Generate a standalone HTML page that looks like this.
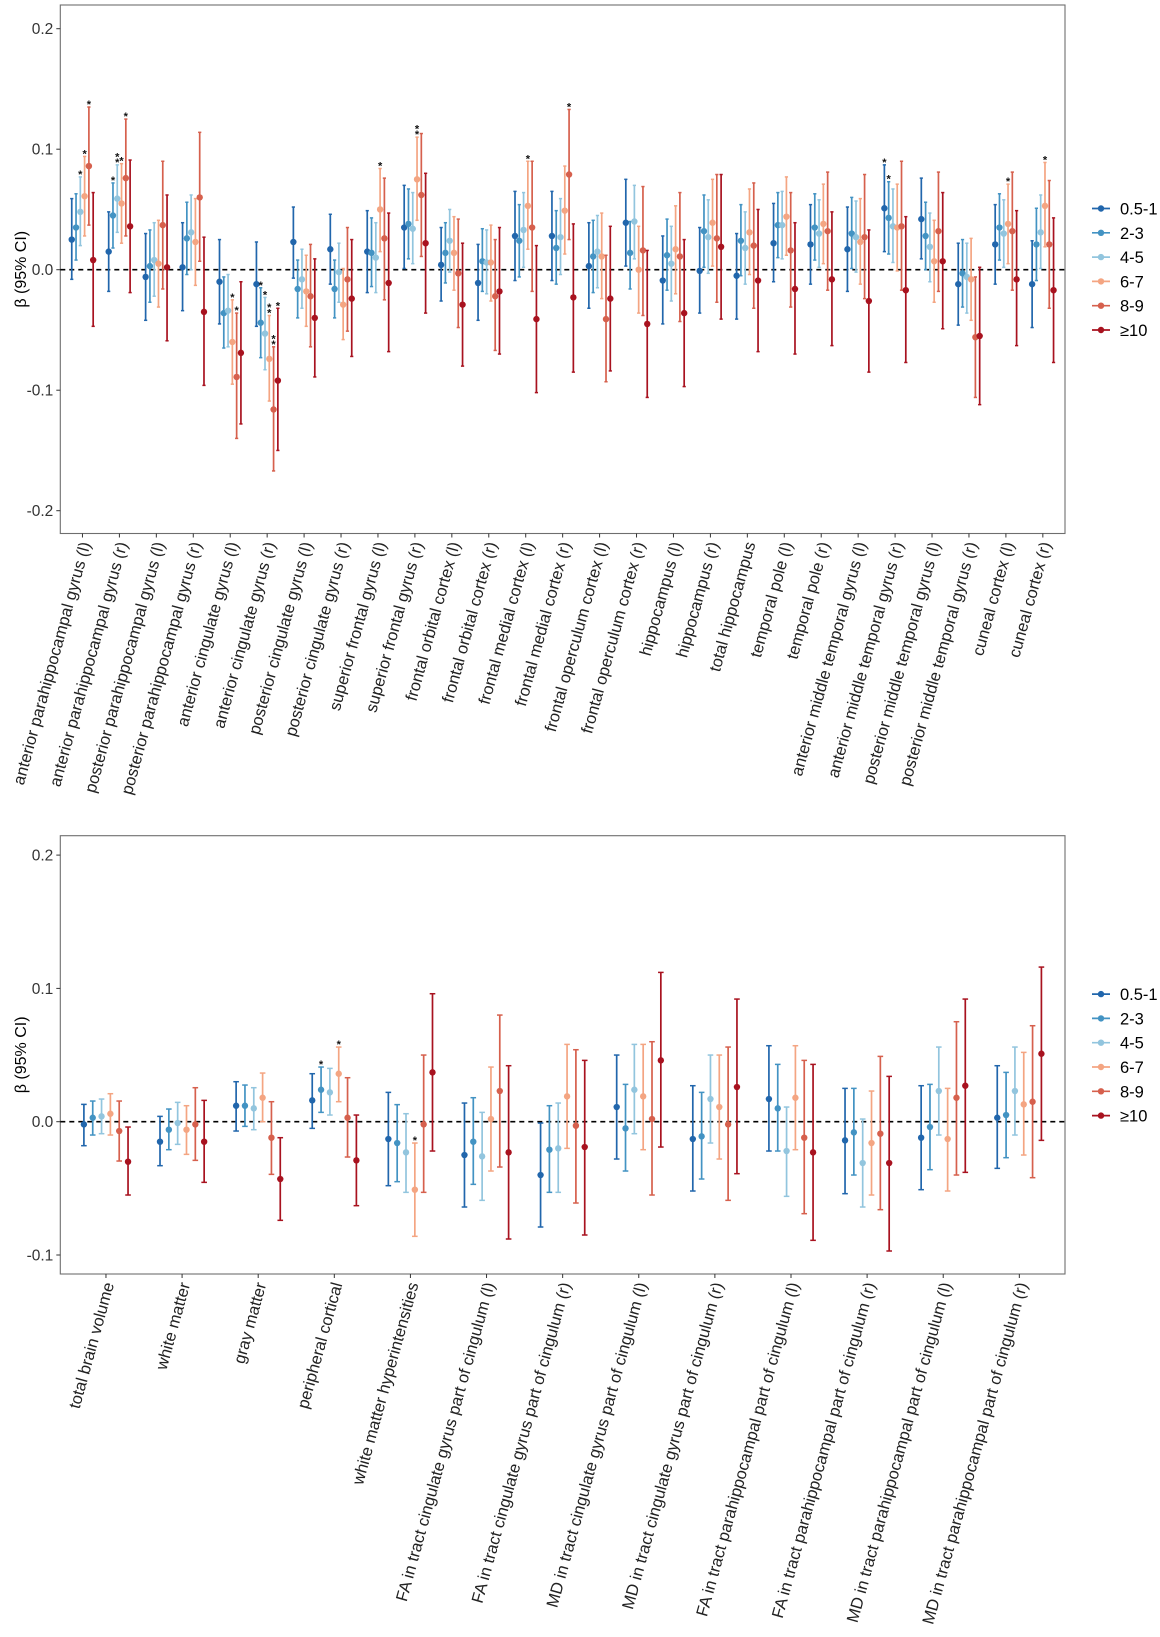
<!DOCTYPE html>
<html><head><meta charset="utf-8"><style>
html,body{margin:0;padding:0;background:#fff;}
svg{display:block;font-family:"Liberation Sans",Arial,sans-serif;}
</style></head><body>
<svg id="chart" width="1160" height="1637" viewBox="0 0 1160 1637" xmlns="http://www.w3.org/2000/svg"></svg>
<script>
const seriesNames = ["0.5-1","2-3","4-5","6-7","8-9","\u226510"];
const seriesColors = ["#2166ac","#4393c3","#92c5de","#f4a582","#d6604d","#a8121f"];

const topCategories = ["anterior parahippocampal gyrus (l)","anterior parahippocampal gyrus (r)","posterior parahippocampal gyrus (l)","posterior parahippocampal gyrus (r)","anterior cingulate gyrus (l)","anterior cingulate gyrus (r)","posterior cingulate gyrus (l)","posterior cingulate gyrus (r)","superior frontal gyrus (l)","superior frontal gyrus (r)","frontal orbital cortex (l)","frontal orbital cortex (r)","frontal medial cortex (l)","frontal medial cortex (r)","frontal operculum cortex (l)","frontal operculum cortex (r)","hippocampus (l)","hippocampus (r)","total hippocampus","temporal pole (l)","temporal pole (r)","anterior middle temporal gyrus (l)","anterior middle temporal gyrus (r)","posterior middle temporal gyrus (l)","posterior middle temporal gyrus (r)","cuneal cortex (l)","cuneal cortex (r)"];
const topEst = [
[.025,.035,.048,.061,.086,.008],[.015,.045,.059,.055,.076,.036],[-.006,.003,.008,.005,.037,.002],[.002,.026,.031,.023,.060,-.035],
[-.010,-.036,-.034,-.060,-.089,-.069],[-.012,-.044,-.053,-.074,-.116,-.092],[.023,-.016,-.008,-.018,-.022,-.040],[.017,-.016,-.002,-.029,-.008,-.024],
[.015,.014,.010,.050,.026,-.011],[.035,.038,.034,.075,.062,.022],[.004,.014,.024,.014,-.003,-.029],[-.011,.007,.006,.006,-.022,-.018],
[.028,.024,.033,.053,.035,-.041],[.028,.018,.027,.049,.079,-.023],[.003,.011,.015,.011,-.041,-.024],[.039,.014,.040,.000,.016,-.045],
[-.009,.012,.005,.017,.011,-.036],[-.001,.032,.027,.039,.026,.019],[-.005,.024,.018,.031,.020,-.009],[.022,.037,.037,.044,.016,-.016],
[.021,.035,.030,.038,.032,-.008],[.017,.030,.027,.023,.027,-.026],[.051,.043,.036,.035,.036,-.017],[.042,.028,.019,.007,.032,.007],
[-.012,-.003,-.006,-.008,-.056,-.055],[.021,.035,.030,.038,.032,-.008],[-.012,.021,.031,.053,.021,-.017]];
const topLo = [
[-.008,.008,.020,.028,.037,-.047],[-.018,.018,.031,.022,.028,-.019],[-.042,-.027,-.022,-.031,-.016,-.059],[-.034,-.004,.000,-.013,.007,-.096],
[-.045,-.065,-.064,-.095,-.140,-.128],[-.047,-.073,-.083,-.109,-.167,-.150],[-.007,-.040,-.032,-.047,-.064,-.089],[-.012,-.040,-.027,-.058,-.051,-.072],
[-.019,-.014,-.019,.015,-.025,-.068],[.001,.009,.005,.041,.011,-.036],[-.026,-.011,-.002,-.017,-.048,-.080],[-.042,-.018,-.020,-.026,-.067,-.070],
[-.009,-.006,.002,.017,-.018,-.102],[-.009,-.012,-.004,.013,.025,-.085],[-.032,-.019,-.015,-.024,-.093,-.084],[.003,-.016,.009,-.036,-.038,-.106],
[-.045,-.017,-.026,-.020,-.043,-.097],[-.036,.002,-.003,.003,-.027,-.041],[-.041,-.005,-.012,-.004,-.032,-.068],[-.010,.010,.009,.012,-.031,-.070],
[-.012,.008,.002,.005,-.017,-.063],[-.018,.001,-.002,-.012,-.024,-.085],[.015,.013,.006,-.001,-.017,-.077],[.009,.000,-.010,-.027,-.018,-.049],
[-.046,-.031,-.036,-.042,-.106,-.112],[-.012,.008,.002,.005,-.017,-.063],[-.048,-.009,.001,.019,-.032,-.077]];
const topHi = [
[.059,.063,.077,.094,.135,.064],[.048,.072,.087,.088,.125,.091],[.030,.033,.039,.041,.090,.062],[.039,.056,.062,.059,.114,.027],
[.025,-.006,-.004,-.025,-.036,-.010],[.023,-.015,-.023,-.038,-.064,-.032],[.052,.008,.017,.012,.021,.009],[.046,.008,.022,.001,.035,.025],
[.049,.043,.039,.084,.076,.047],[.070,.067,.064,.110,.113,.080],[.035,.039,.050,.044,.042,.022],[.021,.034,.033,.037,.025,.035],
[.065,.054,.064,.090,.090,.020],[.065,.049,.059,.086,.133,.038],[.039,.041,.045,.047,.012,.036],[.075,.040,.070,.036,.069,.016],
[.028,.042,.036,.053,.064,.025],[.035,.062,.058,.075,.079,.079],[.030,.054,.048,.067,.072,.050],[.055,.064,.065,.077,.064,.039],
[.054,.063,.058,.071,.081,.048],[.052,.060,.057,.059,.079,.033],[.087,.073,.067,.071,.090,.044],[.076,.056,.047,.041,.081,.064],
[.022,.025,.022,.026,-.006,.002],[.054,.063,.058,.071,.081,.049],[.024,.051,.062,.089,.074,.043]];
const topStars = [
[0,0,1,1,1,0],[0,1,2,1,1,0],[0,0,0,0,0,0],[0,0,0,0,0,0],[0,0,0,1,1,0],[0,1,1,2,2,1],[0,0,0,0,0,0],[0,0,0,0,0,0],
[0,0,0,1,0,0],[0,0,0,2,0,0],[0,0,0,0,0,0],[0,0,0,0,0,0],[0,0,0,1,0,0],[0,0,0,0,1,0],[0,0,0,0,0,0],[0,0,0,0,0,0],
[0,0,0,0,0,0],[0,0,0,0,0,0],[0,0,0,0,0,0],[0,0,0,0,0,0],[0,0,0,0,0,0],[0,0,0,0,0,0],[1,1,0,0,0,0],[0,0,0,0,0,0],
[0,0,0,0,0,0],[0,0,0,1,0,0],[0,0,0,1,0,0]];
const topTicks = [0.2,0.1,0.0,-0.1,-0.2];
const topTickLabels = ["0.2","0.1","0.0","-0.1","-0.2"];

const botCategories = ["total brain volume","white matter","gray matter","peripheral cortical","white matter hyperintensities","FA in tract cingulate gyrus part of cingulum (l)","FA in tract cingulate gyrus part of cingulum (r)","MD in tract cingulate gyrus part of cingulum (l)","MD in tract cingulate gyrus part of cingulum (r)","FA in tract parahippocampal part of cingulum (l)","FA in tract parahippocampal part of cingulum (r)","MD in tract parahippocampal part of cingulum (l)","MD in tract parahippocampal part of cingulum (r)"];
const botEst = [
[-.002,.003,.004,.006,-.007,-.030],[-.015,-.006,-.001,-.006,-.002,-.015],[.012,.012,.010,.018,-.012,-.043],[.016,.024,.022,.036,.003,-.029],
[-.013,-.016,-.023,-.051,-.002,.037],[-.025,-.015,-.026,.002,.023,-.023],[-.040,-.021,-.020,.019,-.003,-.019],[.011,-.005,.024,.019,.002,.046],
[-.013,-.011,.017,.011,-.002,.026],[.017,.010,-.022,.018,-.012,-.023],[-.014,-.008,-.031,-.016,-.009,-.031],[-.012,-.004,.023,-.013,.018,.027],
[.003,.005,.023,.013,.015,.051]];
const botLo = [
[-.018,-.010,-.009,-.010,-.0295,-.055],[-.033,-.021,-.017,-.0245,-.029,-.0455],[-.007,-.0035,-.006,.000,-.0395,-.074],[-.005,.007,.005,.015,-.0265,-.063],
[-.048,-.045,-.053,-.086,-.053,-.022],[-.064,-.047,-.059,-.037,-.034,-.088],[-.079,-.053,-.053,-.020,-.061,-.085],[-.028,-.037,-.009,-.021,-.055,-.019],
[-.052,-.043,-.016,-.028,-.059,-.039],[-.022,-.022,-.056,-.021,-.069,-.089],[-.054,-.040,-.064,-.055,-.066,-.097],[-.051,-.036,-.010,-.052,-.040,-.038],
[-.035,-.027,-.010,-.025,-.042,-.014]];
const botHi = [
[.013,.0155,.017,.021,.0155,-.004],[.004,.0095,.0145,.012,.0255,.016],[.030,.0275,.0255,.0365,.015,-.012],[.036,.041,.040,.056,.033,.005],
[.022,.0128,.006,-.016,.050,.096],[.014,.018,.007,.041,.080,.042],[-.001,.012,.014,.058,.054,.046],[.050,.028,.058,.058,.060,.112],
[.027,.022,.050,.050,.056,.092],[.057,.043,.011,.057,.046,.043],[.025,.025,.002,.023,.049,.034],[.027,.028,.056,.025,.075,.092],
[.042,.037,.056,.052,.072,.116]];
const botStars = [
[0,0,0,0,0,0],[0,0,0,0,0,0],[0,0,0,0,0,0],[0,1,0,1,0,0],[0,0,0,1,0,0],[0,0,0,0,0,0],[0,0,0,0,0,0],[0,0,0,0,0,0],
[0,0,0,0,0,0],[0,0,0,0,0,0],[0,0,0,0,0,0],[0,0,0,0,0,0],[0,0,0,0,0,0]];
const botTicks = [0.2,0.1,0.0,-0.1];
const botTickLabels = ["0.2","0.1","0.0","-0.1"];

const NS = "http://www.w3.org/2000/svg";
const svg = document.getElementById("chart");
function mk(tag, attrs, parent){ const e=document.createElementNS(NS,tag); for(const k in attrs) e.setAttribute(k,attrs[k]); (parent||svg).appendChild(e); return e; }

function drawPanel(cfg){
  const g = mk("g",{});
  
  
  const L=60.3, R=1065, T=cfg.top, B=cfg.bottom;
  const n = cfg.cats.length;
  const step = (R-L)/(n-1+1.2);
  const xCat = i => L + 0.6*step + i*step;
  const dodge = step*0.116;
  const xPt = (i,s) => xCat(i) + (s-2.5)*dodge;
  const y = v => cfg.y0 - v*cfg.pxPer;
  mk("rect",{x:L,y:T,width:R-L,height:B-T,fill:"#fff",stroke:"#6e6e6e","stroke-width":1.1},g);
  cfg.ticks.forEach((t,k)=>{
    const tk = mk("line",{x1:L-4,x2:L,y1:y(t),y2:y(t),stroke:"#333","stroke-width":1},g);
    
    
    const tl = mk("text",{x:L-7,y:y(t)+5.5,"text-anchor":"end","font-size":15.5,fill:"#333"},g);
    tl.textContent = cfg.tickLabels[k];
    
    
  });
  const yt = mk("text",{x:0,y:0,transform:`translate(26,${(T+B)/2}) rotate(-90)`,"text-anchor":"middle","font-size":16,fill:"#000"},g);
  yt.textContent = "\u03b2 (95% CI)";
  
  
  const zl = mk("line",{x1:L,x2:R,y1:y(0),y2:y(0),stroke:"#000","stroke-width":1.6,"stroke-dasharray":"5,4"},g);
  
  
  cfg.cats.forEach((c,i)=>{
    const tk = mk("line",{x1:xCat(i),x2:xCat(i),y1:B,y2:B+4,stroke:"#333","stroke-width":1},g);
    
    
    const tx = mk("text",{x:0,y:0,transform:`translate(${xCat(i)+4},${B+9}) rotate(-74.5)`,"text-anchor":"end","font-size":cfg.labelSize,fill:"#222","dominant-baseline":"middle"},g);
    tx.textContent = c;
    
    
  });
  for(let s=0;s<6;s++){
    const sg = mk("g",{},g);
    
    
    cfg.cats.forEach((c,i)=>{
      const x = xPt(i,s), col = seriesColors[s];
      const bar = mk("line",{x1:x,x2:x,y1:y(cfg.lo[i][s]),y2:y(cfg.hi[i][s]),stroke:col,"stroke-width":1.7},sg);
      
      
      [cfg.lo[i][s],cfg.hi[i][s]].forEach(v=>{
        const cap = mk("line",{x1:x-cfg.cap,x2:x+cfg.cap,y1:y(v),y2:y(v),stroke:col,"stroke-width":1.5},sg);
        
        
      });
      const pt = mk("circle",{cx:x,cy:y(cfg.est[i][s]),r:3.2,fill:col},sg);
      
      
      for(let k=0;k<cfg.stars[i][s];k++){
        const st = mk("text",{x:x,y:y(cfg.hi[i][s])-3-k*5.5+4,"text-anchor":"middle","font-size":11,fill:"#111","font-weight":"bold"},sg);
        st.textContent="*";
        
        
      }
    });
  }
  const lg = mk("g",{},g);
  
  
  const ly0 = (T+B)/2 - 2.5*24.3;
  seriesNames.forEach((nm,s)=>{
    const ly = ly0 + s*24.3;
    const eg = mk("g",{},lg);
    
    
    mk("line",{x1:1092,x2:1110,y1:ly,y2:ly,stroke:seriesColors[s],"stroke-width":1.7},eg);
    mk("circle",{cx:1101,cy:ly,r:3.2,fill:seriesColors[s]},eg);
    const t = mk("text",{x:1120,y:ly+6,"font-size":16.5,fill:"#000"},eg);
    t.textContent = nm;
  });
}

drawPanel({name:"top-panel-regional-volumes",cats:topCategories,est:topEst,lo:topLo,hi:topHi,stars:topStars,
  ticks:topTicks,tickLabels:topTickLabels,top:5,bottom:533.5,y0:269.7,pxPer:1205,cap:1.6,labelSize:16.5});
drawPanel({name:"bottom-panel-global-and-tracts",cats:botCategories,est:botEst,lo:botLo,hi:botHi,stars:botStars,
  ticks:botTicks,tickLabels:botTickLabels,top:835.7,bottom:1274,y0:1121.7,pxPer:1333,cap:2.8,labelSize:16.5});
</script>
</body></html>
